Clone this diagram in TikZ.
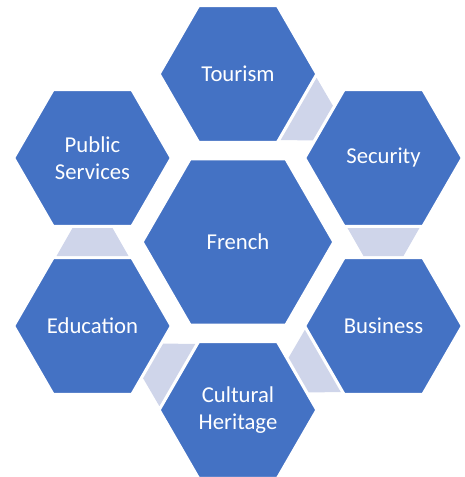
\documentclass[tikz,border=0pt]{standalone}
\usepackage{fontspec}
\setmainfont{Carlito}
\usetikzlibrary{shapes.geometric,calc}
\definecolor{hexblue}{HTML}{4472C4}
\definecolor{linkfill}{HTML}{CFD5EA}
\begin{document}
\begin{tikzpicture}[x=1pt,y=1pt,
    hex/.style={regular polygon, regular polygon sides=6, fill=hexblue,
      draw=white, line width=1.5pt, inner sep=0pt, text=white, align=center,
      font=\fontsize{22.7}{27}\selectfont},
    hexsmall/.style={hex, minimum size=156pt},
    hexbig/.style={hex, minimum size=190pt},
    hexlink/.style={fill=linkfill, to path={
      ($(\tikztostart.center)!70pt!(\tikztotarget.center)$) coordinate (w)
      ($(\tikztostart.center)!98pt!(\tikztotarget.center)$) coordinate (n)
      ($(w)!36pt!90:(\tikztotarget.center)$) -- ($(w)!36pt!-90:(\tikztotarget.center)$)
      -- ($(n)!20pt!-90:(\tikztotarget.center)$) -- ($(n)!20pt!90:(\tikztotarget.center)$)
      -- cycle}}]
      \useasboundingbox (-238,-235) rectangle (226,242);
      \draw
        (0:0) node[hexbig] (french){French}
        (90:168) node[hexsmall] (tourism){Tourism}
        (30:168) node[hexsmall] (security){Security}
        (-30:168) node[hexsmall] (business){Business}
        (-90:168) node[hexsmall] (heritage){Cultural\\Heritage}
        (-150:168) node[hexsmall] (education){Education}
        (150:168) node[hexsmall] (public){Public\\Services};
      \begin{scope}
        \path[hexlink] (tourism) to (security);
        \path[hexlink] (security) to (business);
        \path[hexlink] (business) to (heritage);
        \path[hexlink] (heritage) to (education);
        \path[hexlink] (education) to (public);
      \end{scope}
    \end{tikzpicture}
\end{document}
